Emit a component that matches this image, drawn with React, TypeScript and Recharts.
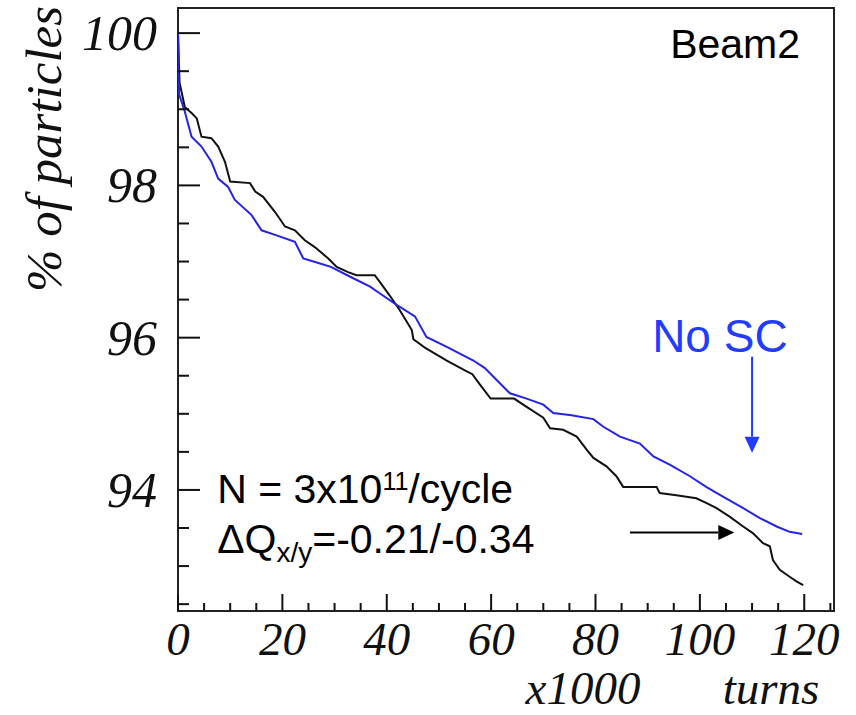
import React from "react";
import {
  LineChart,
  Line,
  XAxis,
  YAxis,
  ReferenceArea,
  ReferenceDot,
  ReferenceLine,
} from "recharts";

// ---- data ----
const scTurns = [
  0, 0.3, 1.3, 2.6, 3.6, 4.5, 6.4, 7.7, 9.0, 10.0, 13.8, 14.8, 16.3, 18.6, 20.5, 22.4,
  24.3, 26.2, 28.8, 30.4, 32.6, 34.2, 37.7, 38.7, 40.6, 42.5, 44.8, 45.1, 47.3, 51.5,
  54.7, 56.4, 57.9, 59.9, 64.4, 66.8, 70.0, 71.3, 73.8, 76.4, 78.3, 79.6, 82.1, 84.0,
  85.3, 91.7, 92.3, 95.5, 99.3, 101.2, 103.2, 105.7, 108.3, 110.2, 112.1, 113.4, 114.0,
  115.3, 117.2, 118.5, 119.8,
];
const scPercent = [
  100, 99.35, 99.03, 98.95, 98.88, 98.64, 98.62, 98.51, 98.31, 98.05, 98.03, 97.92,
  97.85, 97.65, 97.46, 97.41, 97.28, 97.19, 97.04, 96.93, 96.86, 96.82, 96.82, 96.73,
  96.55, 96.36, 96.1, 95.98, 95.87, 95.7, 95.58, 95.52, 95.38, 95.2, 95.2, 95.09, 94.95,
  94.81, 94.79, 94.7, 94.53, 94.42, 94.31, 94.18, 94.04, 94.04, 93.96, 93.93, 93.89,
  93.83, 93.76, 93.65, 93.52, 93.43, 93.3, 93.26, 93.08, 92.95, 92.86, 92.8, 92.75,
];
const noScTurns = [
  0, 0.2, 1.3, 2.6, 4.5, 6.4, 7.7, 9.6, 10.9, 14.1, 16.0, 18.6, 22.4, 24.0, 26.9, 29.3,
  33.0, 36.8, 38.7, 41.9, 45.4, 47.6, 51.5, 56.6, 58.8, 61.1, 63.6, 66.8, 70.0, 71.9,
  75.4, 79.6, 81.5, 84.7, 88.5, 91.1, 94.3, 98.1, 101.2, 104.5, 108.3, 111.5, 114.7,
  117.2, 119.6,
];
const noScPercent = [
  100, 99.2, 98.97, 98.64, 98.51, 98.31, 98.09, 97.98, 97.81, 97.61, 97.41, 97.35, 97.26,
  97.04, 96.98, 96.93, 96.8, 96.67, 96.58, 96.43, 96.28, 96.01, 95.88, 95.7, 95.6, 95.44,
  95.27, 95.2, 95.12, 95.01, 94.98, 94.93, 94.83, 94.7, 94.61, 94.44, 94.33, 94.18,
  94.04, 93.91, 93.76, 93.63, 93.52, 93.45, 93.42,
];

const xTicks = [
  0, 5, 10, 15, 20, 25, 30, 35, 40, 45, 50, 55, 60, 65, 70, 75, 80, 85, 90, 95, 100, 105,
  110, 115, 120, 125,
];
const xLabelTicks = [0, 20, 40, 60, 80, 100, 120];
const yTicks = [92.5, 93, 93.5, 94, 94.5, 95, 95.5, 96, 96.5, 97, 97.5, 98, 98.5, 99, 99.5, 100];
const yLabelTicks = [94, 96, 98, 100];

const X_DOMAIN: [number, number] = [0, 125.7];
const Y_DOMAIN: [number, number] = [92.41, 100.33];

const scData = scTurns.map((t, i) => ({ t, v: scPercent[i] }));
const noScData = noScTurns.map((t, i) => ({ t, v: noScPercent[i] }));

const SERIF = "'Liberation Serif', 'Times New Roman', serif";
const SANS = "'Liberation Sans', Arial, Helvetica, sans-serif";
const BLUE_LINE = "#2323ea";
const BLUE_TEXT = "#1f3cff";

const YTick = (props: any) => {
  const { x, y, payload } = props;
  const major = yLabelTicks.includes(payload.value);
  return (
    <g>
      <line x1={x} x2={x + (major ? 22 : 11)} y1={y} y2={y} stroke="#111" strokeWidth={2} />
      {major && (
        <text
          x={x - 21}
          y={y}
          textAnchor="end"
          dominantBaseline="central"
          fontFamily={SERIF}
          fontStyle="italic"
          fontSize={50}
          fill="#111"
        >
          {payload.value}
        </text>
      )}
    </g>
  );
};

const XTick = (props: any) => {
  const { x, y, payload } = props;
  const major = xLabelTicks.includes(payload.value);
  return (
    <g>
      <line x1={x} x2={x} y1={y} y2={y - (major ? 17 : 8)} stroke="#111" strokeWidth={2} />
      {major && (
        <text
          x={x}
          y={y + 44}
          textAnchor="middle"
          fontFamily={SERIF}
          fontStyle="italic"
          fontSize={47}
          fill="#111"
        >
          {payload.value}
        </text>
      )}
    </g>
  );
};

const makeArrow = (color: string) => (props: any) => {
  const { x1, y1, x2, y2 } = props;
  const dx = x2 - x1;
  const dy = y2 - y1;
  const len = Math.sqrt(dx * dx + dy * dy) || 1;
  const ux = dx / len;
  const uy = dy / len;
  const head = 16;
  const half = 7.5;
  const bx = x2 - ux * head;
  const by = y2 - uy * head;
  const px = -uy * half;
  const py = ux * half;
  return (
    <g>
      <line x1={x1} y1={y1} x2={bx} y2={by} stroke={color} strokeWidth={2} />
      <polygon
        points={`${x2},${y2} ${bx + px},${by + py} ${bx - px},${by - py}`}
        fill={color}
      />
    </g>
  );
};

export default function App() {
  return (
    <div style={{ position: "absolute", left: 0, top: 0, width: 856, height: 715, background: "#fff" }}>
      <LineChart
        width={856}
        height={715}
        margin={{ top: 8, right: 22, bottom: 0, left: 0 }}
      >
        <XAxis
          type="number"
          dataKey="t"
          domain={X_DOMAIN}
          ticks={xTicks}
          interval={0}
          allowDataOverflow
          axisLine={false}
          tickLine={false}
          tickSize={0}
          tickMargin={0}
          height={104}
          tick={<XTick />}
        />
        <YAxis
          type="number"
          dataKey="v"
          domain={Y_DOMAIN}
          ticks={yTicks}
          interval={0}
          allowDataOverflow
          axisLine={false}
          tickLine={false}
          tickSize={0}
          tickMargin={0}
          width={178}
          tick={<YTick />}
        />
        <ReferenceArea
          x1={X_DOMAIN[0]}
          x2={X_DOMAIN[1]}
          y1={Y_DOMAIN[0]}
          y2={Y_DOMAIN[1]}
          fill="none"
          fillOpacity={0}
          stroke="#222"
          strokeWidth={2}
          ifOverflow="visible"
        />
        <Line
          data={scData}
          dataKey="v"
          type="linear"
          stroke="#111"
          strokeWidth={2}
          dot={false}
          isAnimationActive={false}
        />
        <Line
          data={noScData}
          dataKey="v"
          type="linear"
          stroke={BLUE_LINE}
          strokeWidth={2}
          dot={false}
          isAnimationActive={false}
        />
        <ReferenceLine
          segment={[{ x: 110, y: 95.75 }, { x: 110, y: 94.49 }]}
          shape={makeArrow(BLUE_TEXT)}
          ifOverflow="visible"
        />
        <ReferenceLine
          segment={[{ x: 86.6, y: 93.44 }, { x: 106.6, y: 93.44 }]}
          shape={makeArrow("#000")}
          ifOverflow="visible"
        />
        <ReferenceDot
          x={119.2}
          y={99.67}
          ifOverflow="visible"
          shape={(p: any) => (
            <text x={p.cx} y={p.cy} textAnchor="end" fontFamily={SANS} fontSize={41} fill="#000">
              Beam2
            </text>
          )}
        />
        <ReferenceDot
          x={90.85}
          y={95.81}
          ifOverflow="visible"
          shape={(p: any) => (
            <text x={p.cx} y={p.cy} textAnchor="start" fontFamily={SANS} fontSize={46} fill={BLUE_TEXT}>
              No SC
            </text>
          )}
        />
        <ReferenceDot
          x={7.5}
          y={93.83}
          ifOverflow="visible"
          shape={(p: any) => (
            <text x={p.cx} y={p.cy} fontFamily={SANS} fontSize={41} fill="#000">
              <tspan>N = 3x10</tspan>
              <tspan fontSize={25} dy={-13}>11</tspan>
              <tspan dy={13}>/cycle</tspan>
            </text>
          )}
        />
        <ReferenceDot
          x={7.5}
          y={93.17}
          ifOverflow="visible"
          shape={(p: any) => (
            <text x={p.cx} y={p.cy} fontFamily={SANS} fontSize={41} fill="#000">
              <tspan>ΔQ</tspan>
              <tspan fontSize={28} dy={9}>x/y</tspan>
              <tspan dy={-9}>=-0.21/-0.34</tspan>
            </text>
          )}
        />
      </LineChart>
      <svg
        width={856}
        height={715}
        style={{ position: "absolute", left: 0, top: 0, pointerEvents: "none" }}
      >
        <text
          x={61}
          y={149}
          transform="rotate(-90 61 149)"
          textAnchor="middle"
          fontFamily={SERIF}
          fontStyle="italic"
          fontSize={51}
          fill="#111"
        >
          % of particles
        </text>
        <text x={583} y={704} textAnchor="middle" fontFamily={SERIF} fontStyle="italic" fontSize={47} fill="#111">
          x1000
        </text>
        <text x={771} y={704} textAnchor="middle" fontFamily={SERIF} fontStyle="italic" fontSize={47} fill="#111">
          turns
        </text>
      </svg>
    </div>
  );
}
